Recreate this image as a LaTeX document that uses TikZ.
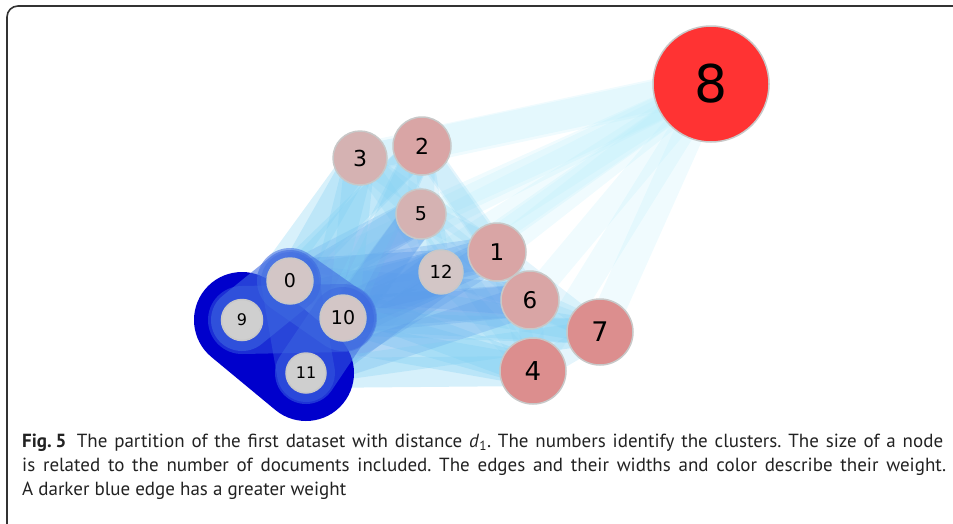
\documentclass[tikz,border=0pt]{standalone}
\usepackage{fontspec}
\setmainfont{PT Sans}
\newfontfamily\nodefont{DejaVu Sans}
\pgfdeclarelayer{bg}
\pgfsetlayers{bg,main}
\definecolor{framec}{HTML}{333333}
\definecolor{capc}{HTML}{222222}
\definecolor{bordc}{HTML}{C8C8C8}
\definecolor{dkb}{HTML}{0000CC}
\definecolor{mdb}{HTML}{3D68E0}
\definecolor{lb}{HTML}{5A9CEA}
\definecolor{cy}{HTML}{7FCFF2}
\definecolor{lcy}{HTML}{B5ECFA}
\definecolor{c8}{HTML}{FF3333}
\definecolor{cA}{HTML}{DC8E8E}
\definecolor{cB}{HTML}{D9A5A5}
\definecolor{cC}{HTML}{D5B2B2}
\definecolor{cD}{HTML}{D3C6C6}
\definecolor{cE}{HTML}{CFCFCF}
\tikzset{
  cl/.style n args={3}{circle, draw=bordc, line width=1.5pt, fill=#1, inner sep=0pt,
     minimum size=#2pt, font={\nodefont\fontsize{#3}{#3}\selectfont}, text=black},
  edge/.style={line cap=round},
}
\begin{document}
\begin{tikzpicture}[x=1pt,y=-1pt]
\useasboundingbox (0,0) rectangle (953,523);
\draw[framec, line width=1.6pt, rounded corners=11pt] (7,560) -- (7,6) -- (990,6);

% nodes
\node[cl={c8}{116}{52}] (n8) at (711,84) {8};
\node[cl={cB}{58}{22}] (n2) at (422,146) {2};
\node[cl={cC}{54}{22}] (n3) at (360,158) {3};
\node[cl={cC}{50}{19}] (n5) at (421,214) {5};
\node[cl={cB}{58}{23}] (n1) at (497,252) {1};
\node[cl={cD}{44}{18}] (n12) at (441,272) {12};
\node[cl={cB}{58}{23}] (n6) at (530,300) {6};
\node[cl={cA}{66}{27}] (n7) at (600,332) {7};
\node[cl={cA}{66}{26}] (n4) at (533,371) {4};
\node[cl={cD}{46}{19}] (n0) at (290,281) {0};
\node[cl={cE}{41}{16}] (n9) at (242,320) {9};
\node[cl={cD}{46}{19}] (n10) at (343,318) {10};
\node[cl={cE}{40}{16}] (n11) at (306,373) {11};

\begin{pgfonlayer}{bg}
% edges to 8
\foreach \a/\w in {9/22,0/24,10/24,11/22,12/22,5/24,1/26,6/24,4/26,7/30,3/30,2/34}
  \draw[edge, draw=lcy, opacity=0.2, line width=\w pt] (n8.center) -- (n\a.center);
% edges among the right clusters
\foreach \a/\b/\w in {3/2/26,3/5/24,2/5/26,5/1/26,5/12/24,12/1/24,1/6/26,6/4/24,6/7/24,4/7/26,12/6/22,5/6/22,2/1/24,3/1/20,1/7/22,1/4/20,12/4/22,2/6/20,3/12/22,2/12/20,12/7/20,5/4/20}
  \draw[edge, draw=cy, opacity=0.2, line width=\w pt] (n\a.center) -- (n\b.center);
% group A to the right clusters
\foreach \a in {0,9,10,11}
  \foreach \b/\w/\c/\o in {3/30/cy/0.3, 2/28/cy/0.28, 5/36/lb/0.28, 12/44/lb/0.4, 1/32/lb/0.28, 6/32/lb/0.28, 4/30/cy/0.32, 7/24/cy/0.3}
    \draw[edge, draw=\c, opacity=\o, line width=\w pt] (n\a.center) -- (n\b.center);
% group A internal
\draw[edge, draw=dkb, line width=96pt] (n9.center) -- (n11.center);
\foreach \a/\b/\w/\o in {0/9/62/0.6, 0/10/66/0.55, 9/10/68/0.45, 10/11/62/0.5, 0/11/58/0.4}
  \draw[edge, draw=mdb, opacity=\o, line width=\w pt] (n\a.center) -- (n\b.center);
\end{pgfonlayer}

% caption
\begin{scope}[every node/.style={anchor=base west, inner sep=0pt, text=capc,
    font=\fontsize{19}{24}\selectfont\frenchspacing}]
\node (cap1) at (22,447) {\makebox[921pt][s]{\textbf{Fig.\kern0.2em5}\hspace{0.55em}The partition of the first dataset with distance \textit{d}\textsubscript{1}. The numbers identify the clusters. The size of a node}};
\node (cap2) at (22,471) {\makebox[924pt][s]{is related to the number of documents included. The edges and their widths and color describe their weight.}};
\node (cap3) at (22,495) {A darker blue edge has a greater weight};
\end{scope}
\end{tikzpicture}
\end{document}
